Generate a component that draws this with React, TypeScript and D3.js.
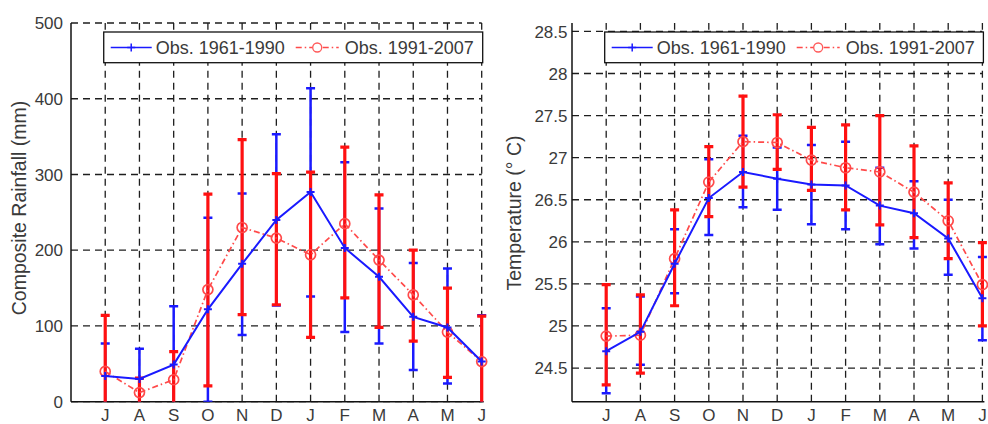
import React, { useEffect, useRef } from 'react';
import * as d3 from 'd3';

const months = ['J', 'A', 'S', 'O', 'N', 'D', 'J', 'F', 'M', 'A', 'M', 'J'];
const seriesNames = ['Obs. 1961-1990', 'Obs. 1991-2007'];

// rainfall (mm)
const rainTicks = [0, 100, 200, 300, 400, 500];
const rainOldMean = [34, 30, 49, 122, 182, 240, 277, 203, 165, 112, 98, 53];
const rainOldLow = [-9, -10, -28, 0, 88, 127, 139, 92, 77, 42, 24, -8];
const rainOldHigh = [77, 70, 126, 243, 275, 353, 414, 316, 255, 183, 176, 114];
const rainNewMean = [40, 12, 29, 148, 230, 216, 194, 235, 187, 141, 92, 53];
const rainNewLow = [-34, -7, -8, 21, 115, 128, 85, 137, 98, 80, 32, -7];
const rainNewHigh = [114, 31, 66, 274, 346, 301, 303, 336, 273, 200, 150, 113];

// temperature (deg C)
const tempTicks = [24.5, 25, 25.5, 26, 26.5, 27, 27.5, 28, 28.5];
const tempOldMean = [24.7, 24.93, 25.74, 26.52, 26.83, 26.75, 26.68, 26.67, 26.43, 26.34, 26.04, 25.33];
const tempOldLow = [24.2, 24.54, 25.39, 26.08, 26.41, 26.38, 26.21, 26.15, 25.97, 25.92, 25.61, 24.83];
const tempOldHigh = [25.21, 25.35, 26.15, 26.98, 27.26, 27.12, 27.15, 27.19, 26.88, 26.72, 26.5, 25.82];
const tempNewMean = [24.88, 24.89, 25.8, 26.71, 27.19, 27.18, 26.97, 26.88, 26.83, 26.59, 26.25, 25.49];
const tempNewLow = [24.3, 24.44, 25.24, 26.3, 26.65, 26.86, 26.61, 26.38, 26.2, 26.05, 25.8, 25.0];
const tempNewHigh = [25.49, 25.37, 26.38, 27.13, 27.73, 27.51, 27.36, 27.39, 27.5, 27.14, 26.7, 25.99];

const BLUE = '#1a1aff';
const RED = '#ff1010';
const PINK = '#ff4a4a';
const TXT = '#3a3a3a';
const FONT = '"Liberation Sans", Arial, sans-serif';
const TOP = 23;
const BOTTOM = 401.7;

const panels = [
  {
    id: 'rain', left: 71, right: 481.7, domain: [0, 500], ticks: rainTicks, tickGap: 8,
    label: 'Composite Rainfall (mm)', labelX: 19, labelY: 208,
    old: { mean: rainOldMean, low: rainOldLow, high: rainOldHigh },
    neu: { mean: rainNewMean, low: rainNewLow, high: rainNewHigh },
  },
  {
    id: 'temp', left: 572, right: 982.4, domain: [24.1, 28.6], ticks: tempTicks, tickGap: 4.5,
    label: 'Temperature (° C)', labelX: 514, labelY: 213,
    old: { mean: tempOldMean, low: tempOldLow, high: tempOldHigh },
    neu: { mean: tempNewMean, low: tempNewLow, high: tempNewHigh },
  },
];

function drawPanel(svg: any, p: any) {
  const x = d3.scaleLinear().domain([0, 12]).range([p.left, p.right]);
  const y = d3.scaleLinear().domain(p.domain).range([BOTTOM, TOP]);
  const idx = months.map((m, i) => i);
  const g = svg.append('g');

  g.append('clipPath').attr('id', 'clip-' + p.id)
    .append('rect').attr('x', x(0)).attr('y', TOP - 6).attr('width', x(12) - x(0) + 8).attr('height', BOTTOM - TOP + 6);

  // grid
  g.selectAll('.hg').data(p.ticks).join('line')
    .attr('x1', x(0)).attr('x2', x(12)).attr('y1', (d: number) => y(d)).attr('y2', (d: number) => y(d))
    .attr('stroke', '#1e1e1e').attr('stroke-width', 1.3).attr('stroke-dasharray', '7,5');
  g.selectAll('.vg').data(idx).join('line')
    .attr('x1', (i: number) => x(i + 1)).attr('x2', (i: number) => x(i + 1)).attr('y1', BOTTOM).attr('y2', TOP)
    .attr('stroke', '#1e1e1e').attr('stroke-width', 1.3).attr('stroke-dasharray', '7,5');

  // axes
  g.append('line').attr('x1', x(0)).attr('x2', x(0)).attr('y1', TOP).attr('y2', BOTTOM).attr('stroke', '#111').attr('stroke-width', 1.5);
  g.append('line').attr('x1', x(0)).attr('x2', x(12) + 2).attr('y1', BOTTOM).attr('y2', BOTTOM).attr('stroke', '#111').attr('stroke-width', 1.5);

  g.selectAll('.yt').data(p.ticks).join('text')
    .attr('x', x(0) - p.tickGap).attr('y', (d: number) => y(d)).attr('dy', '0.36em')
    .attr('text-anchor', 'end').attr('font-size', 17).attr('font-family', FONT).attr('fill', TXT)
    .text((d: number) => String(d));
  g.selectAll('.xt').data(idx).join('text')
    .attr('x', (i: number) => x(i + 1)).attr('y', 421)
    .attr('text-anchor', 'middle').attr('font-size', 17).attr('font-family', FONT).attr('fill', TXT)
    .text((i: number) => months[i]);
  g.append('text')
    .attr('transform', `translate(${p.labelX},${p.labelY}) rotate(-90)`)
    .attr('dy', '0.35em').attr('text-anchor', 'middle')
    .attr('font-size', 19.5).attr('font-family', FONT).attr('fill', TXT)
    .text(p.label);

  const plot = g.append('g').attr('clip-path', `url(#clip-${p.id})`);
  const cap = 4.5;

  const bars = (s: any, color: string, w: number) => {
    const eb = plot.append('g').attr('stroke', color).attr('stroke-width', w).attr('fill', 'none');
    eb.selectAll('.v').data(idx).join('line')
      .attr('x1', (i: number) => x(i + 1)).attr('x2', (i: number) => x(i + 1))
      .attr('y1', (i: number) => y(s.low[i])).attr('y2', (i: number) => y(s.high[i]));
    eb.selectAll('.c1').data(idx).join('line')
      .attr('x1', (i: number) => x(i + 1) - cap).attr('x2', (i: number) => x(i + 1) + cap)
      .attr('y1', (i: number) => y(s.low[i])).attr('y2', (i: number) => y(s.low[i]));
    eb.selectAll('.c2').data(idx).join('line')
      .attr('x1', (i: number) => x(i + 1) - cap).attr('x2', (i: number) => x(i + 1) + cap)
      .attr('y1', (i: number) => y(s.high[i])).attr('y2', (i: number) => y(s.high[i]));
  };
  bars(p.old, BLUE, 2.5);
  bars(p.neu, RED, 3.2);

  const line = (s: any) => d3.line<number>().x(i => x(i + 1)).y(i => y(s.mean[i]))(idx);

  // red dash-dot mean + circles
  plot.append('path').attr('d', line(p.neu)).attr('fill', 'none')
    .attr('stroke', PINK).attr('stroke-width', 1.7).attr('stroke-dasharray', '6,3,1.5,3');
  plot.selectAll('.rc').data(idx).join('circle')
    .attr('cx', (i: number) => x(i + 1)).attr('cy', (i: number) => y(p.neu.mean[i])).attr('r', 5)
    .attr('fill', 'none').attr('stroke', PINK).attr('stroke-width', 1.7);

  // blue solid mean + plus markers
  plot.append('path').attr('d', line(p.old)).attr('fill', 'none').attr('stroke', BLUE).attr('stroke-width', 2);
  plot.selectAll('.bp').data(idx).join('path')
    .attr('d', (i: number) => {
      const cx = x(i + 1), cy = y(p.old.mean[i]);
      return `M${cx - 4},${cy}H${cx + 4}M${cx},${cy - 4}V${cy + 4}`;
    })
    .attr('stroke', BLUE).attr('stroke-width', 2);

  // legend
  const lx = x(1) - 1.5;
  const leg = g.append('g');
  leg.append('rect').attr('x', lx).attr('y', 32).attr('width', x(12) + 1 - lx).attr('height', 30.7)
    .attr('fill', '#fff').attr('stroke', '#111').attr('stroke-width', 1.3);
  const ly = 47.5;
  leg.append('line').attr('x1', lx + 7).attr('x2', lx + 48).attr('y1', ly).attr('y2', ly).attr('stroke', BLUE).attr('stroke-width', 1.5);
  leg.append('path').attr('d', `M${lx + 23.5},${ly}H${lx + 31.5}M${lx + 27.5},${ly - 4}V${ly + 4}`).attr('stroke', BLUE).attr('stroke-width', 1.5);
  leg.append('line').attr('x1', lx + 192).attr('x2', lx + 235).attr('y1', ly).attr('y2', ly)
    .attr('stroke', PINK).attr('stroke-width', 1.4).attr('stroke-dasharray', '6,3,1.5,3');
  leg.append('circle').attr('cx', lx + 213.5).attr('cy', ly).attr('r', 4.5).attr('fill', '#fff').attr('stroke', '#ff5a5a').attr('stroke-width', 1.3);
  leg.selectAll('.lt').data(seriesNames).join('text')
    .attr('x', (d: string, i: number) => lx + (i === 0 ? 52 : 241)).attr('y', ly).attr('dy', '0.36em')
    .attr('font-size', 18).attr('font-family', FONT).attr('fill', TXT)
    .text((d: string) => d);
}

export default function App() {
  const ref = useRef<SVGSVGElement>(null);
  useEffect(() => {
    const svg = d3.select(ref.current);
    svg.selectAll('*').remove();
    panels.forEach(p => drawPanel(svg, p));
  }, []);
  return (
    <div style={{ position: 'absolute', left: 0, top: 0, width: 988, height: 424, background: '#fff' }}>
      <svg ref={ref} width={988} height={424} style={{ display: 'block' }} />
    </div>
  );
}
